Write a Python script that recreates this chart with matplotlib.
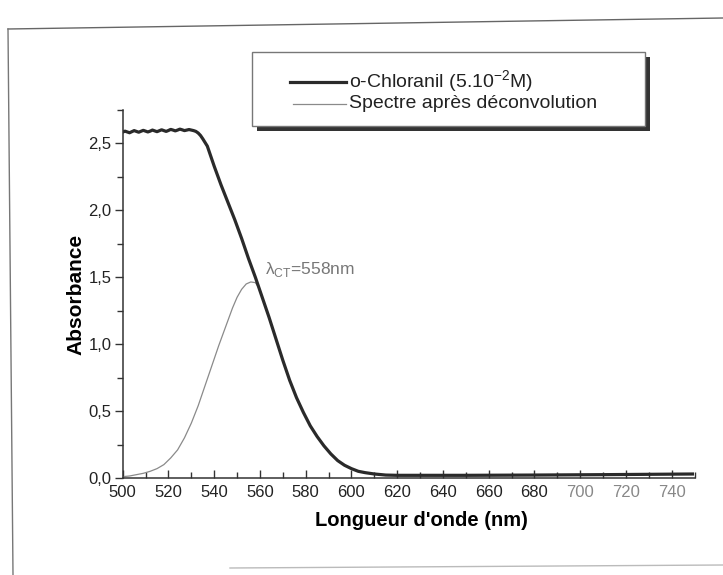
import matplotlib
matplotlib.use('Agg')
import matplotlib.pyplot as plt
from matplotlib.ticker import MultipleLocator, FuncFormatter
from matplotlib.patches import Rectangle
from matplotlib.lines import Line2D

plt.rcParams['font.family'] = ['Liberation Sans', 'DejaVu Sans']

# spectre mesure (o-chloranil)
wl_mes = [500, 501, 502, 503, 504, 505, 506, 507, 508, 509, 510, 511, 512, 513,
          514, 515, 516, 517, 518, 519, 520, 521, 522, 523, 524, 525, 526, 527,
          528, 529, 530, 531, 532, 533, 534, 535, 537, 540, 543, 546, 549, 552,
          555, 558, 561, 564, 567, 570, 573, 576, 579, 582, 585, 588, 591, 594,
          597, 600, 603, 606, 610, 615, 620, 630, 650, 680, 710, 750]
abs_mes = [2.585, 2.592, 2.586, 2.580, 2.588, 2.596, 2.590, 2.584, 2.591, 2.598,
           2.592, 2.586, 2.592, 2.600, 2.594, 2.588, 2.595, 2.602, 2.596, 2.590,
           2.597, 2.605, 2.600, 2.594, 2.600, 2.607, 2.602, 2.596, 2.600, 2.604,
           2.600, 2.596, 2.590, 2.578, 2.560, 2.535, 2.48, 2.33, 2.19, 2.06, 1.93,
           1.79, 1.64, 1.50, 1.35, 1.20, 1.04, 0.88, 0.73, 0.60, 0.49, 0.39, 0.31,
           0.24, 0.18, 0.13, 0.095, 0.07, 0.05, 0.04, 0.03, 0.022, 0.02, 0.02, 0.02,
           0.022, 0.025, 0.03]

# spectre apres deconvolution
wl_dec = [500, 503, 506, 509, 512, 515, 518, 521, 524, 527, 530, 533, 536, 539,
          542, 545, 548, 550, 552, 554, 556, 558, 560, 561, 564, 567, 570, 573,
          576, 579, 582, 585, 588, 591, 594, 597, 600, 603, 606, 610, 615, 620,
          630, 650, 680, 710, 750]
abs_dec = [0.01, 0.015, 0.025, 0.035, 0.05, 0.07, 0.10, 0.15, 0.21, 0.30, 0.41,
           0.54, 0.69, 0.84, 0.99, 1.13, 1.27, 1.35, 1.41, 1.45, 1.465, 1.46, 1.41,
           1.35, 1.20, 1.04, 0.88, 0.73, 0.60, 0.49, 0.39, 0.31, 0.24, 0.18, 0.13,
           0.095, 0.07, 0.05, 0.04, 0.03, 0.022, 0.02, 0.02, 0.02, 0.022, 0.025, 0.03]

lab_mes = r'o-Chloranil (5.10$^{\mathregular{-2}}$M)'
lab_dec = 'Spectre après déconvolution'

W, H = 723, 575
fig = plt.figure(figsize=(W / 100, H / 100), dpi=100)

# axes placed in pixels
x0, x1, y0, y1 = 122.7, 694.5, 478, 110
ax = fig.add_axes([x0 / W, 1 - y0 / H, (x1 - x0) / W, (y0 - y1) / H])

ax.plot(wl_dec, abs_dec, color='#8a8a8a', lw=0.9)
ax.plot(wl_mes, abs_mes, color='#2a2a2a', lw=2.3)

ax.set_xlim(500, 750)
ax.set_ylim(0, 2.75)
for s in ['top', 'right']:
    ax.spines[s].set_visible(False)
for s in ['left', 'bottom']:
    ax.spines[s].set_color('#333333')
    ax.spines[s].set_linewidth(1.1)

ax.xaxis.set_major_locator(MultipleLocator(20))
ax.xaxis.set_minor_locator(MultipleLocator(10))
ax.yaxis.set_major_locator(MultipleLocator(0.5))
ax.yaxis.set_minor_locator(MultipleLocator(0.25))
ax.yaxis.set_major_formatter(FuncFormatter(lambda v, p: ('%.1f' % v).replace('.', ',')))

ax.tick_params(axis='x', which='both', direction='in', colors='#333333', labelsize=12,
               pad=5, labelcolor='#222222')
ax.tick_params(axis='x', which='major', length=6, width=1)
ax.tick_params(axis='x', which='minor', length=4, width=1)
ax.tick_params(axis='y', which='both', direction='out', colors='#333333', labelsize=12,
               pad=2, labelcolor='#222222')
ax.tick_params(axis='y', which='major', length=6, width=1)
ax.tick_params(axis='y', which='minor', length=4, width=1)
for t in ax.get_xticklabels():
    if t.get_text() in ('700', '720', '740'):
        t.set_color('#888888')

ax.set_xlabel("Longueur d'onde (nm)", fontsize=14.5, fontweight='bold', labelpad=8)
ax.xaxis.label.set_x(0.522)
ax.set_ylabel('Absorbance', fontsize=15, fontweight='bold', labelpad=2)

ax.text(562.2, 1.56, r'λ$_{\mathregular{CT}}$=558nm', fontsize=12.5,
        color='#777777', va='center', ha='left')

# overlay in pixel coordinates: page frame and legend box
ov = fig.add_axes([0, 0, 1, 1], zorder=-1)
ov.set_xlim(0, W)
ov.set_ylim(H, 0)
ov.axis('off')
ov.add_line(Line2D([8, 723], [29, 18], color='#666666', lw=1.0))
ov.add_line(Line2D([8, 13], [29, 575], color='#777777', lw=1.0))
ov.add_line(Line2D([230, 723], [568, 565], color='#bbbbbb', lw=1.0))

ov2 = fig.add_axes([0, 0, 1, 1], zorder=5)
ov2.set_xlim(0, W)
ov2.set_ylim(H, 0)
ov2.axis('off')
ov2.patch.set_alpha(0)
ov2.add_patch(Rectangle((257, 57), 393, 74, facecolor='#333333', edgecolor='none'))
ov2.add_patch(Rectangle((252, 52), 393, 74, facecolor='white', edgecolor='#777777', lw=1.0))
ov2.add_line(Line2D([290, 346], [82, 82], color='#2a2a2a', lw=2.3))
ov2.add_line(Line2D([293, 346], [104, 104], color='#8a8a8a', lw=0.9))
ov2.text(349, 82, lab_mes, fontsize=14, va='center', ha='left', color='#222222')
ov2.text(349, 104, lab_dec, fontsize=14, va='center', ha='left', color='#222222')

fig.savefig('out.png', dpi=100)
